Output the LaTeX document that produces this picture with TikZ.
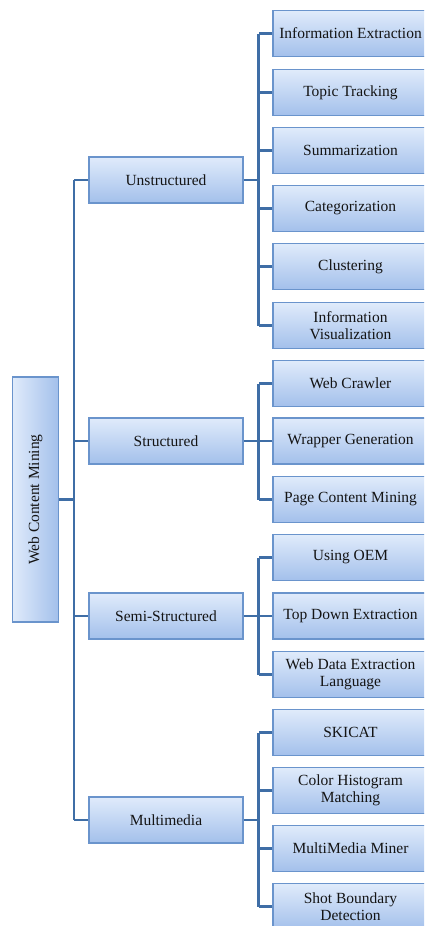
\documentclass[tikz,border=0pt]{standalone}
\usepackage{fontspec}
\setmainfont{Liberation Serif}
\usepackage{graphicx}
\definecolor{boxlight}{HTML}{E0EBFB}
\definecolor{boxdark}{HTML}{A3C0EB}
\definecolor{boxedge}{HTML}{6A94CC}
\definecolor{linkcol}{HTML}{3F6EA6}
\definecolor{txtcol}{HTML}{141414}
\tikzset{
  boxbase/.style={draw=boxedge, line width=1.2pt, inner sep=1pt, align=center,
    text=txtcol, font=\fontsize{15.5}{16.5}\selectfont},
  leafbox/.style={boxbase, top color=boxlight, bottom color=boxdark,
    minimum width=155pt, minimum height=46pt},
  midbox/.style={boxbase, top color=boxlight, bottom color=boxdark,
    minimum width=154pt, minimum height=46pt},
  rootbox/.style={boxbase, left color=boxlight, right color=boxdark,
    minimum width=46pt, minimum height=245pt},
  link/.style={draw=linkcol, line width=2.8pt}
}
\begin{document}
\begin{tikzpicture}[x=1pt,y=-1pt]
\useasboundingbox (0,0) rectangle (424,926);
\begin{scope}
\clip (0,0) rectangle (424,926);
% root
\node[rootbox] (root) at (35.5,499.5) {\rotatebox{90}{Web Content Mining}};
% mid level
\node[midbox] (m1) at (166,180) {Unstructured};
\node[midbox] (m2) at (166,441) {Structured};
\node[midbox] (m3) at (166,616) {Semi-Structured};
\node[midbox] (m4) at (166,820) {Multimedia};
% leaves
\node[leafbox] (l1) at (350.5,33.5) {Information Extraction};
\node[leafbox] (l2) at (350.5,92.5) {Topic Tracking};
\node[leafbox] (l3) at (350.5,150.5) {Summarization};
\node[leafbox] (l4) at (350.5,208.5) {Categorization};
\node[leafbox] (l5) at (350.5,266.5) {Clustering};
\node[leafbox] (l6) at (350.5,325.5) {Information\\Visualization};
\node[leafbox] (l7) at (350.5,383.5) {Web Crawler};
\node[leafbox] (l8) at (350.5,441) {Wrapper Generation};
\node[leafbox] (l9) at (350.5,499.5) {Page Content Mining};
\node[leafbox] (l10) at (350.5,557.5) {Using OEM};
\node[leafbox] (l11) at (350.5,616) {Top Down Extraction};
\node[leafbox] (l12) at (350.5,674.5) {Web Data Extraction\\Language};
\node[leafbox] (l13) at (350.5,732.5) {SKICAT};
\node[leafbox] (l14) at (350.5,790.5) {Color Histogram\\Matching};
\node[leafbox] (l15) at (350.5,848.5) {MultiMedia Miner};
\node[leafbox] (l16) at (350.5,906.5) {Shot Boundary\\Detection};
\end{scope}
% trunk coordinates
\coordinate (tx) at (74,0);
\coordinate (bx) at (258.5,0);
% root links
\draw[link] (root.east) -- (root.east -| tx);
\draw[link] (m1.west -| tx) -- (m4.west -| tx);
\foreach \m in {m1,m2,m3,m4} \draw[link] (\m.west) -- (\m.west -| tx);
% group links
\foreach \m/\a/\b/\list in {m1/l1/l6/{l1,l2,l3,l4,l5,l6}, m2/l7/l9/{l7,l8,l9}, m3/l10/l12/{l10,l11,l12}, m4/l13/l16/{l13,l14,l15,l16}}{
  \draw[link] (\m.east) -- (\m.east -| bx);
  \draw[link] (\a.west -| bx) -- (\b.west -| bx);
  \foreach \l in \list \draw[link] (\l.west) -- (\l.west -| bx);
}
\end{tikzpicture}
\end{document}
